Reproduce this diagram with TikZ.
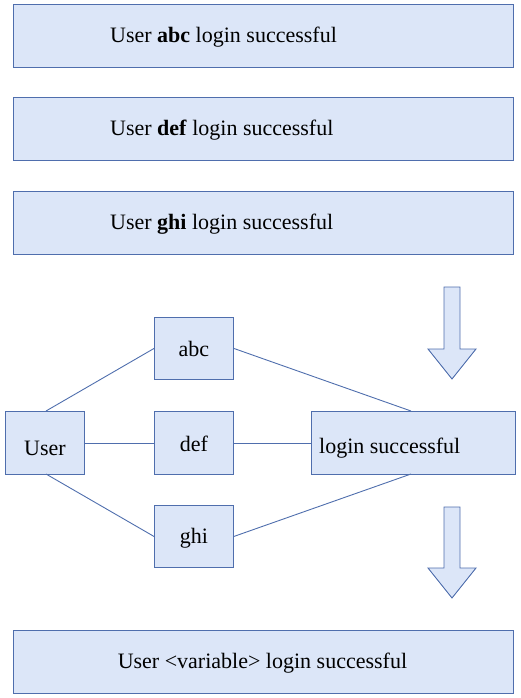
\documentclass[tikz,border=0pt]{standalone}
\usepackage{fontspec}
\setmainfont{Liberation Serif}
\definecolor{boxfill}{HTML}{DCE6F8}
\definecolor{boxline}{HTML}{4F6EAD}
\begin{document}
\begin{tikzpicture}[x=1pt,y=-1pt,
  box/.style={draw=boxline, fill=boxfill, line width=0.9pt, inner sep=0pt, anchor=north west},
  lbl/.style={font=\fontsize{22}{26}\selectfont, inner sep=0pt},
  conn/.style={draw=boxline, line width=0.9pt},
  bigarrow/.style={draw=boxline, fill=boxfill, line width=0.9pt, line join=miter}]
\useasboundingbox (0,0) rectangle (520,698);
% top boxes
\node[box, minimum width=500pt, minimum height=63pt] (b1) at (13,4) {};
\node[lbl, anchor=west] (t1) at (110,37.5) {User \textbf{abc} login successful};
\node[box, minimum width=500pt, minimum height=63pt] (b2) at (13,97) {};
\node[lbl, anchor=west] (t2) at (110,130.5) {User \textbf{def} login successful};
\node[box, minimum width=500pt, minimum height=63pt] (b3) at (13,191) {};
\node[lbl, anchor=west] (t3) at (110,224) {User \textbf{ghi} login successful};
% middle graph
\node[box, minimum width=79pt, minimum height=62pt] (abc) at (154,317) {};
\node[lbl] at ([yshift=-1pt]abc.center) {abc};
\node[box, minimum width=79pt, minimum height=63pt] (def) at (154,411) {};
\node[lbl] at ([yshift=-1pt]def.center) {def};
\node[box, minimum width=79pt, minimum height=62pt] (ghi) at (154,505) {};
\node[lbl] at ([yshift=-2pt]ghi.center) {ghi};
\node[box, minimum width=79pt, minimum height=63pt] (user) at (5,411) {};
\node[lbl] at ([yshift=-5pt]user.center) {User};
\node[box, minimum width=204pt, minimum height=63pt] (login) at (311,411) {};
\node[lbl, anchor=west] at ([xshift=8pt,yshift=-5pt]login.west) {login successful};
\coordinate (ut) at (46,411);
\coordinate (ub) at (46,474);
\coordinate (lt) at (411,411);
\coordinate (lb) at (411,474);
\draw[conn] (ut) -- (abc.west);
\draw[conn] (abc.east) -- (lt);
\draw[conn] (user.east) -- (def.west);
\draw[conn] (def.east) -- (login.west);
\draw[conn] (ub) -- (ghi.west);
\draw[conn] (ghi.east) -- (lb);
% big arrows
\draw[bigarrow] (444,287) -- (460,287) -- (460,349) -- (476,349) -- (452,379) -- (428,349) -- (444,349) -- cycle;
\draw[bigarrow] (444,507) -- (460,507) -- (460,568) -- (476,568) -- (452,598) -- (428,568) -- (444,568) -- cycle;
% bottom box
\node[box, minimum width=500pt, minimum height=63pt] (b4) at (13,630) {};
\node[lbl] (t4) at ([xshift=-1pt,yshift=-1pt]b4.center) {User <variable> login successful};
\end{tikzpicture}
\end{document}
